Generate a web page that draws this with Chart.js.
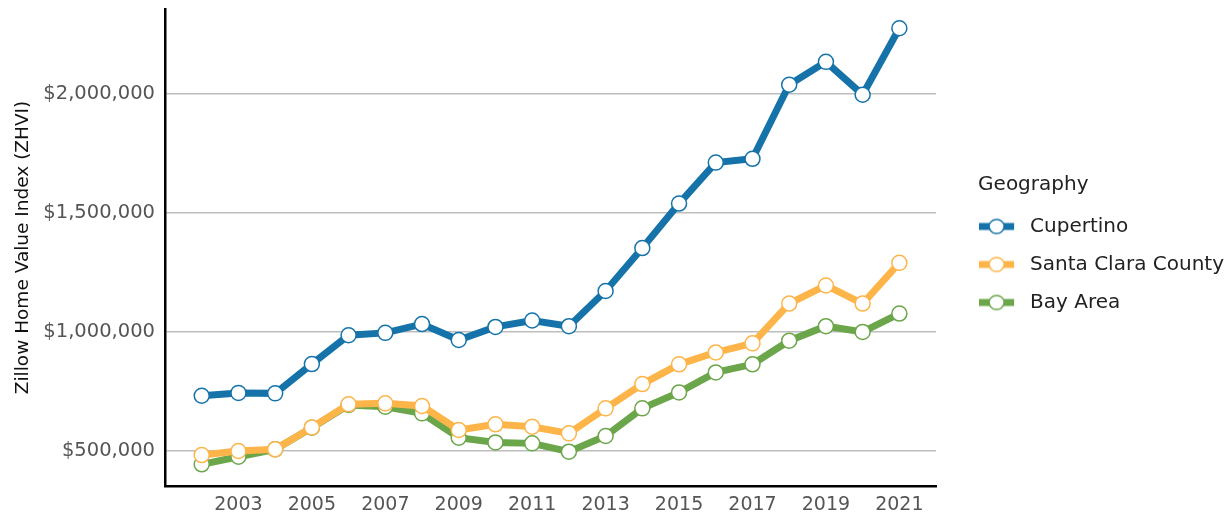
<!DOCTYPE html>
<html lang="en">
<head>
  <meta charset="UTF-8">
  <title>Zillow Home Value Index</title>
  <script src="https://cdn.jsdelivr.net/npm/chart.js"></script>
  <style>
    body {
      margin: 0;
      padding: 0;
      background-color: #ffffff;
    }
    .wrap {
      width: 1228px;
      height: 515px;
    }
  </style>
</head>
<body>
  <div class="wrap">
    <canvas id="grafico" width="1228" height="515"></canvas>
  </div>

  <script>
    // values
    const years = [2002, 2003, 2004, 2005, 2006, 2007, 2008, 2009, 2010, 2011,
                   2012, 2013, 2014, 2015, 2016, 2017, 2018, 2019, 2020, 2021];
    const cupertino = [732000, 744000, 742000, 865000, 986000, 996000, 1033000, 966000, 1021000, 1048000,
                       1024000, 1172000, 1352000, 1539000, 1711000, 1727000, 2038000, 2134000, 1996000, 2275000];
    const santaClara = [483000, 500000, 507000, 599000, 696000, 700000, 689000, 588000, 612000, 602000,
                        574000, 679000, 781000, 864000, 914000, 952000, 1119000, 1195000, 1119000, 1290000];
    const bayArea = [444000, 476000, 507000, 598000, 693000, 686000, 658000, 556000, 536000, 532000,
                     497000, 563000, 679000, 746000, 830000, 864000, 963000, 1024000, 1000000, 1077000];
    const seriesNames = ["Cupertino", "Santa Clara County", "Bay Area"];
    const seriesColors = ["#1573a9", "#fdb54a", "#6ba64a"];
    const yTicks = [500000, 1000000, 1500000, 2000000];
    const xTicks = [2003, 2005, 2007, 2009, 2011, 2013, 2015, 2017, 2019, 2021];

    const fonte = "'DejaVu Sans', sans-serif";
    const LEGEND_GAP = 25;    // empty room between plot and legend
    const LEGEND_RAISE = 6;   // legend sits a bit above the plot's middle
    const TITLE_INDENT = 17;  // "Geography" starts a little right of the legend edge

    // line + circle marker for the legend (extra transparent room on the right)
    function legendMark(cor) {
      const c = document.createElement("canvas");
      c.width = 41;
      c.height = 18;
      const g = c.getContext("2d");
      g.strokeStyle = cor;
      g.lineWidth = 7;
      g.beginPath();
      g.moveTo(0, 9);
      g.lineTo(35, 9);
      g.stroke();
      g.fillStyle = "#fff";
      g.lineWidth = 1.5;
      g.beginPath();
      g.ellipse(17.5, 9, 7.5, 7, 0, 0, Math.PI * 2);
      g.fill();
      g.stroke();
      return c;
    }

    // widen the legend box, then move its content right/up after layout
    const legendGap = {
      id: "legendGap",
      beforeLayout(chart) {
        const lg = chart.legend;
        if (lg && !lg._gapPatched) {
          const fitOrig = lg.fit;
          lg.fit = function () {
            fitOrig.call(this);
            this.width += LEGEND_GAP;
          };
          const titleOrig = lg.drawTitle;
          lg.drawTitle = function () {
            this.left += TITLE_INDENT;
            titleOrig.call(this);
            this.left -= TITLE_INDENT;
          };
          lg._gapPatched = true;
        }
      },
      afterLayout(chart) {
        const lg = chart.legend;
        if (!lg) return;
        lg.left += LEGEND_GAP;
        lg.width -= LEGEND_GAP;
        lg.top -= LEGEND_RAISE;
        lg.bottom -= LEGEND_RAISE;
      }
    };

    function serie(nome, valores, cor) {
      return {
        label: nome,
        data: years.map((ano, i) => ({ x: ano, y: valores[i] })),
        borderColor: cor,
        backgroundColor: "#ffffff",
        borderWidth: 7,
        pointRadius: 7.5,
        pointBorderWidth: 1.5,
        pointBorderColor: cor,
        pointBackgroundColor: "#ffffff",
        tension: 0,
        fill: false
      };
    }

    const datasets = [
      serie(seriesNames[0], cupertino, seriesColors[0]),
      serie(seriesNames[1], santaClara, seriesColors[1]),
      serie(seriesNames[2], bayArea, seriesColors[2])
    ];

    new Chart(document.getElementById("grafico").getContext("2d"), {
      type: "line",
      data: { datasets: datasets },
      plugins: [legendGap],
      options: {
        responsive: false,
        animation: false,
        layout: { padding: { top: 2, right: -6, left: 0, bottom: 0 } },
        plugins: {
          tooltip: { enabled: false },
          legend: {
            position: "right",
            title: {
              display: true,
              text: "Geography",
              position: "start",
              color: "#222",
              font: { family: fonte, size: 20 },
              padding: { top: 0, bottom: 0 }
            },
            labels: {
              color: "#222",
              font: { family: fonte, size: 20 },
              usePointStyle: true,
              pointStyleWidth: 41,
              padding: 18,
              generateLabels: (chart) => chart.data.datasets.map((ds, i) => ({
                text: ds.label,
                pointStyle: legendMark(seriesColors[i]),
                fillStyle: seriesColors[i],
                strokeStyle: seriesColors[i],
                lineWidth: 0,
                hidden: false,
                datasetIndex: i
              }))
            }
          }
        },
        scales: {
          x: {
            type: "linear",
            min: 2001,
            max: 2022,
            grid: { display: false },
            border: { display: true, color: "#000", width: 2.5 },
            afterBuildTicks: (axis) => { axis.ticks = xTicks.map(v => ({ value: v })); },
            afterFit: (axis) => { axis.height = 29; axis.paddingLeft = 0; axis.paddingRight = 0; },
            ticks: {
              color: "#555",
              font: { family: fonte, size: 19 },
              padding: 0,
              maxRotation: 0,
              callback: (v) => String(v)
            }
          },
          y: {
            min: 353000,
            max: 2356000,
            afterFit: (axis) => { axis.width = 165; axis.paddingTop = 0; axis.paddingBottom = 0; },
            afterBuildTicks: (axis) => { axis.ticks = yTicks.map(v => ({ value: v })); },
            grid: { color: "#bdbdbd", lineWidth: 1.5, drawTicks: false },
            border: { display: true, color: "#000", width: 2.5 },
            title: {
              display: true,
              text: "Zillow Home Value Index (ZHVI)",
              color: "#111",
              font: { family: fonte, size: 18.5 },
              padding: { top: 12, bottom: 0 }
            },
            ticks: {
              color: "#555",
              font: { family: fonte, size: 19.5 },
              padding: 10,
              callback: (v) => "$" + Number(v).toLocaleString("en-US")
            }
          }
        }
      }
    });
  </script>
</body>
</html>
